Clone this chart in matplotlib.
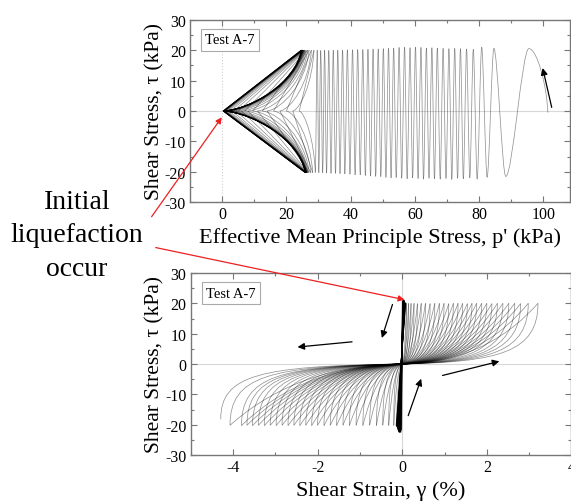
import matplotlib
matplotlib.use('Agg')
import matplotlib.pyplot as plt
from matplotlib.path import Path
from matplotlib.patches import PathPatch

plt.rcParams['font.family'] = ['Liberation Serif', 'DejaVu Serif']
plt.rcParams['axes.unicode_minus'] = False

# ---------------- data ----------------
# Stress path: starting point and turning points of each cycle before initial liquefaction
p_start, tau_start = 101.4, -0.5
p_peak_pre = [95.5, 84.6, 80.8, 78.2, 76.1, 74.2, 72.4, 70.6, 68.8, 67.0,
              65.3, 63.6, 61.9, 60.2, 58.5, 56.8, 55.1, 53.4, 51.8, 50.2,
              48.6, 47.0, 45.4, 43.8, 42.2, 40.6, 39.0, 37.5, 36.0, 34.6,
              33.2, 31.9, 30.7, 29.6]
p_trough_pre = [88.3, 82.5, 79.4, 77.1, 75.1, 73.3, 71.5, 69.7, 67.9, 66.1,
                64.4, 62.7, 61.0, 59.3, 57.6, 55.9, 54.2, 52.6, 51.0, 49.4,
                47.8, 46.2, 44.6, 43.0, 41.4, 39.8, 38.2, 36.7, 35.3, 33.9,
                32.5, 31.3, 30.1, 29.0]
tau_peak_pre = [20.5, 20.6, 21.0, 20.3, 20.4, 20.5, 20.6, 20.5, 20.6, 20.7,
                20.8, 20.7, 20.9, 21.0, 20.8, 21.0, 20.9, 20.7, 20.6, 20.5,
                20.4, 20.4, 20.3, 20.2, 20.2, 20.1, 20.1, 20.0, 20.0, 20.0,
                19.9, 20.0, 19.9, 20.0]
tau_trough_pre = [-21.5, -21.8, -22.4, -22.0, -22.3, -22.1, -22.5, -22.2, -22.4, -22.3,
                  -22.1, -22.4, -22.2, -22.0, -22.3, -22.1, -21.9, -22.0, -21.8, -21.6,
                  -21.5, -21.4, -21.2, -21.0, -21.0, -20.8, -20.7, -20.6, -20.5, -20.5,
                  -20.4, -20.3, -20.3, -20.2]
# Shear strain at the same turning points (before liquefaction)
g_peak_pre = [0.004, 0.008, 0.011, 0.014, 0.017, 0.019, 0.021, 0.023, 0.025, 0.027,
              0.029, 0.031, 0.033, 0.035, 0.037, 0.039, 0.041, 0.043, 0.045, 0.047,
              0.049, 0.051, 0.053, 0.055, 0.057, 0.059, 0.061, 0.063, 0.065, 0.067,
              0.069, 0.072, 0.076, 0.082]
g_trough_pre = [-0.015, -0.025, -0.032, -0.038, -0.043, -0.048, -0.052, -0.056, -0.060, -0.064,
                -0.067, -0.070, -0.073, -0.076, -0.079, -0.082, -0.085, -0.088, -0.091, -0.094,
                -0.097, -0.100, -0.103, -0.106, -0.109, -0.112, -0.115, -0.118, -0.121, -0.124,
                -0.127, -0.131, -0.136, -0.142]

# Cycles after initial liquefaction (butterfly / cyclic mobility)
p_peak_post = [28.6, 27.8, 27.1, 26.6, 26.2, 25.9, 25.7, 25.5, 25.4, 25.3,
               25.2, 25.1, 25.1, 25.0, 25.0, 24.9, 24.9, 24.9, 24.8, 24.8,
               24.8, 24.8, 24.7, 24.7, 24.7, 24.7, 24.6, 24.6]
p_trough_post = [28.2, 27.6, 27.1, 26.8, 26.6, 26.5, 26.4, 26.3, 26.3, 26.2,
                 26.2, 26.2, 26.1, 26.1, 26.1, 26.1, 26.0, 26.0, 26.0, 26.0,
                 26.0, 25.9, 25.9, 25.9, 25.9, 25.9, 25.9, 24.2]
p_zero_up = [24.0, 20.0, 16.0, 12.5, 9.5, 7.0, 5.0, 3.6, 2.6, 1.9,
             1.4, 1.1, 0.9, 0.8, 0.7, 0.6, 0.6, 0.5, 0.5, 0.5,
             0.4, 0.4, 0.4, 0.4, 0.3, 0.3, 0.3, 0.3]
p_zero_down = [22.0, 18.0, 14.0, 11.0, 8.0, 6.0, 4.3, 3.1, 2.2, 1.6,
               1.2, 1.0, 0.85, 0.75, 0.65, 0.6, 0.55, 0.5, 0.5, 0.45,
               0.4, 0.4, 0.4, 0.35, 0.35, 0.3, 0.3, 0.3]
tau_peak_post = [20.0, 20.0, 20.0, 20.0, 19.9, 20.0, 20.0, 19.9, 20.0, 20.0,
                 20.0, 19.9, 20.0, 20.0, 20.0, 19.9, 20.0, 20.0, 20.0, 20.0,
                 19.9, 20.0, 20.0, 20.0, 20.0, 19.9, 20.0, 20.0]
tau_trough_post = [-20.3, -20.3, -20.2, -20.3, -20.2, -20.3, -20.2, -20.3, -20.2, -20.3,
                   -20.2, -20.3, -20.2, -20.3, -20.2, -20.3, -20.2, -20.3, -20.2, -20.3,
                   -20.2, -20.3, -20.2, -20.3, -20.2, -20.3, -20.2, -18.2]
g_peak_post = [0.10, 0.15, 0.21, 0.28, 0.36, 0.45, 0.55, 0.66, 0.77, 0.88,
               0.99, 1.10, 1.21, 1.32, 1.43, 1.54, 1.65, 1.76, 1.88, 2.00,
               2.12, 2.25, 2.38, 2.52, 2.66, 2.80, 2.98, 3.21]
g_trough_post = [-0.20, -0.32, -0.46, -0.61, -0.77, -0.93, -1.09, -1.25, -1.40, -1.55,
                 -1.70, -1.85, -2.00, -2.14, -2.28, -2.42, -2.56, -2.70, -2.84, -2.98,
                 -3.12, -3.26, -3.40, -3.54, -3.67, -3.80, -4.07, -4.29]

# annotation arrows (data coordinates)
arrow_top = ((102.8, 0.3), (99.6, 15.0))
arrows_bottom = [((-0.21, 20.5), (-0.50, 7.7)),
                 ((-1.12, 7.4), (-2.54, 5.5)),
                 ((0.12, -17.9), (0.47, -4.0)),
                 ((0.89, -4.0), (2.36, 1.1))]

LINE = dict(fill=False, ec='black', lw=0.55, alpha=0.42)

# ---------------- figure ----------------
fig = plt.figure(figsize=(5.71, 5.02), dpi=100)
ax1 = fig.add_axes([190 / 571, 1 - 203.3 / 502, 380 / 571, 182.6 / 502])
ax2 = fig.add_axes([190.7 / 571, 1 - 456 / 502, 380.7 / 571, 182 / 502])


def add_seg(ax, verts):
    ax.add_patch(PathPatch(Path(verts, [Path.MOVETO] + [Path.CURVE4] * (len(verts) - 1)), **LINE))


# ---- top: stress path ----
turn = []
for i in range(len(p_peak_pre)):
    turn.append((p_peak_pre[i], tau_peak_pre[i]))
    turn.append((p_trough_pre[i], tau_trough_pre[i]))
A0 = (p_start, tau_start)
P0 = turn[0]
add_seg(ax1, [A0, (A0[0] - 0.3, A0[1] + 9), (P0[0] + 2.5, P0[1]), P0])
for A, B in zip(turn[:-1], turn[1:]):
    d = A[0] - B[0]
    add_seg(ax1, [A, (A[0] - 0.3 * d, A[1]), (B[0] + 0.3 * d, B[1]), B])


def butterfly_half(ax, X, z, Y):
    Z = (z, 0.0)
    add_seg(ax, [X, (X[0] - 0.08 * (X[0] - z), 0.45 * X[1]),
                 (z + 0.35 * (X[0] - z), 0.03 * X[1]), Z,
                 (z + (Y[0] - z) / 3, Y[1] / 3), (z + 2 * (Y[0] - z) / 3, 2 * Y[1] / 3), Y])


X = turn[-1]
for i in range(len(p_peak_post)):
    P = (p_peak_post[i], tau_peak_post[i])
    T = (p_trough_post[i], tau_trough_post[i])
    butterfly_half(ax1, X, p_zero_up[i], P)
    butterfly_half(ax1, P, p_zero_down[i], T)
    X = T

ax1.annotate('', xy=arrow_top[1], xytext=arrow_top[0],
             arrowprops=dict(arrowstyle='-|>', color='black', lw=0.9, mutation_scale=10))

# ---- bottom: stress-strain ----
gs = [0.0]
ts = [0.0]
for i in range(len(g_peak_pre)):
    gs += [g_peak_pre[i], g_trough_pre[i]]
    ts += [tau_peak_pre[i], tau_trough_pre[i]]
for i in range(len(gs) - 1):
    ax2.plot(gs[i:i + 2], ts[i:i + 2], color='black', lw=0.7, alpha=0.45)


def strain_half(ax, X, Y):
    sgn = 1 if Y[0] > 0 else -1
    w = min(0.4 * abs(Y[0]), 0.9)
    add_seg(ax, [X, (0.8 * X[0], 0.5 * X[1]), (0.5 * X[0], 0.02 * X[1]), (0.0, 0.0),
                 (Y[0] - sgn * w, 0.035 * Y[1]), (Y[0], 0.2 * Y[1]), Y])


X = (gs[-1], ts[-1])
for i in range(len(g_peak_post)):
    P = (g_peak_post[i], tau_peak_post[i])
    T = (g_trough_post[i], tau_trough_post[i])
    strain_half(ax2, X, P)
    strain_half(ax2, P, T)
    X = T

for s, e in arrows_bottom:
    ax2.annotate('', xy=e, xytext=s,
                 arrowprops=dict(arrowstyle='-|>', color='black', lw=0.9, mutation_scale=10))

# ---- axes styling ----
for ax in (ax1, ax2):
    ax.set_ylim(-30, 30)
    ax.set_yticks([-30, -20, -10, 0, 10, 20, 30])
    ax.set_yticks(range(-25, 30, 10), minor=True)
    ax.axhline(0, color='#d8d8d8', lw=0.8, zorder=0)
    ax.tick_params(which='both', direction='in', top=True, right=True, color='#777777',
                   labelsize=11.5, pad=3)
    ax.tick_params(which='major', length=4, width=0.8)
    ax.tick_params(which='minor', length=2.5, width=0.8)
    for sp in ax.spines.values():
        sp.set_color('#777777')
        sp.set_linewidth(1.0)
    ax.set_ylabel('Shear Stress, τ (kPa)', fontsize=15.5)
    ax.yaxis.set_label_coords(-0.068, 0.5)
    ax.text(0.04, 0.925, 'Test A-7', transform=ax.transAxes, ha='left', va='top', fontsize=10.5,
            bbox=dict(boxstyle='square,pad=0.3', fc='white', ec='#aaaaaa', lw=0.8))

ax1.set_xlim(-10, 108.3)
ax1.set_xticks([0, 20, 40, 60, 80, 100])
ax1.set_xticks(range(-10, 110, 20), minor=True)
ax1.axvline(0, color='#d0d0d0', lw=0.8, ls=':', zorder=0)
ax1.set_xlabel("Effective Mean Principle Stress, p' (kPa)", fontsize=16)
ax1.xaxis.set_label_coords(0.5, -0.135)

ax2.set_xlim(-5, 4)
ax2.set_xticks([-4, -2, 0, 2, 4])
ax2.set_xticks([-5, -3, -1, 1, 3], minor=True)
ax2.axvline(0, color='#d8d8d8', lw=0.8, zorder=0)
ax2.set_xlabel('Shear Strain, γ (%)', fontsize=16)
ax2.xaxis.set_label_coords(0.5, -0.14)

# ---- side annotation ----
fig.text(77 / 571, 1 - 236 / 502, 'Initial\nliquefaction\noccur', ha='center', va='center',
         fontsize=20, linespacing=1.45)
red = dict(arrowstyle='-|>', color='#ee2020', lw=0.9, mutation_scale=9)
ax1.annotate('', xy=(0.4, -1.3), xycoords='data', xytext=(150 / 571, 1 - 220 / 502),
             textcoords='figure fraction', arrowprops=red, annotation_clip=False)
ax2.annotate('', xy=(0.12, 21.0), xycoords='data', xytext=(153 / 571, 1 - 248 / 502),
             textcoords='figure fraction', arrowprops=red, annotation_clip=False)

fig.savefig('out.png', dpi=100)
